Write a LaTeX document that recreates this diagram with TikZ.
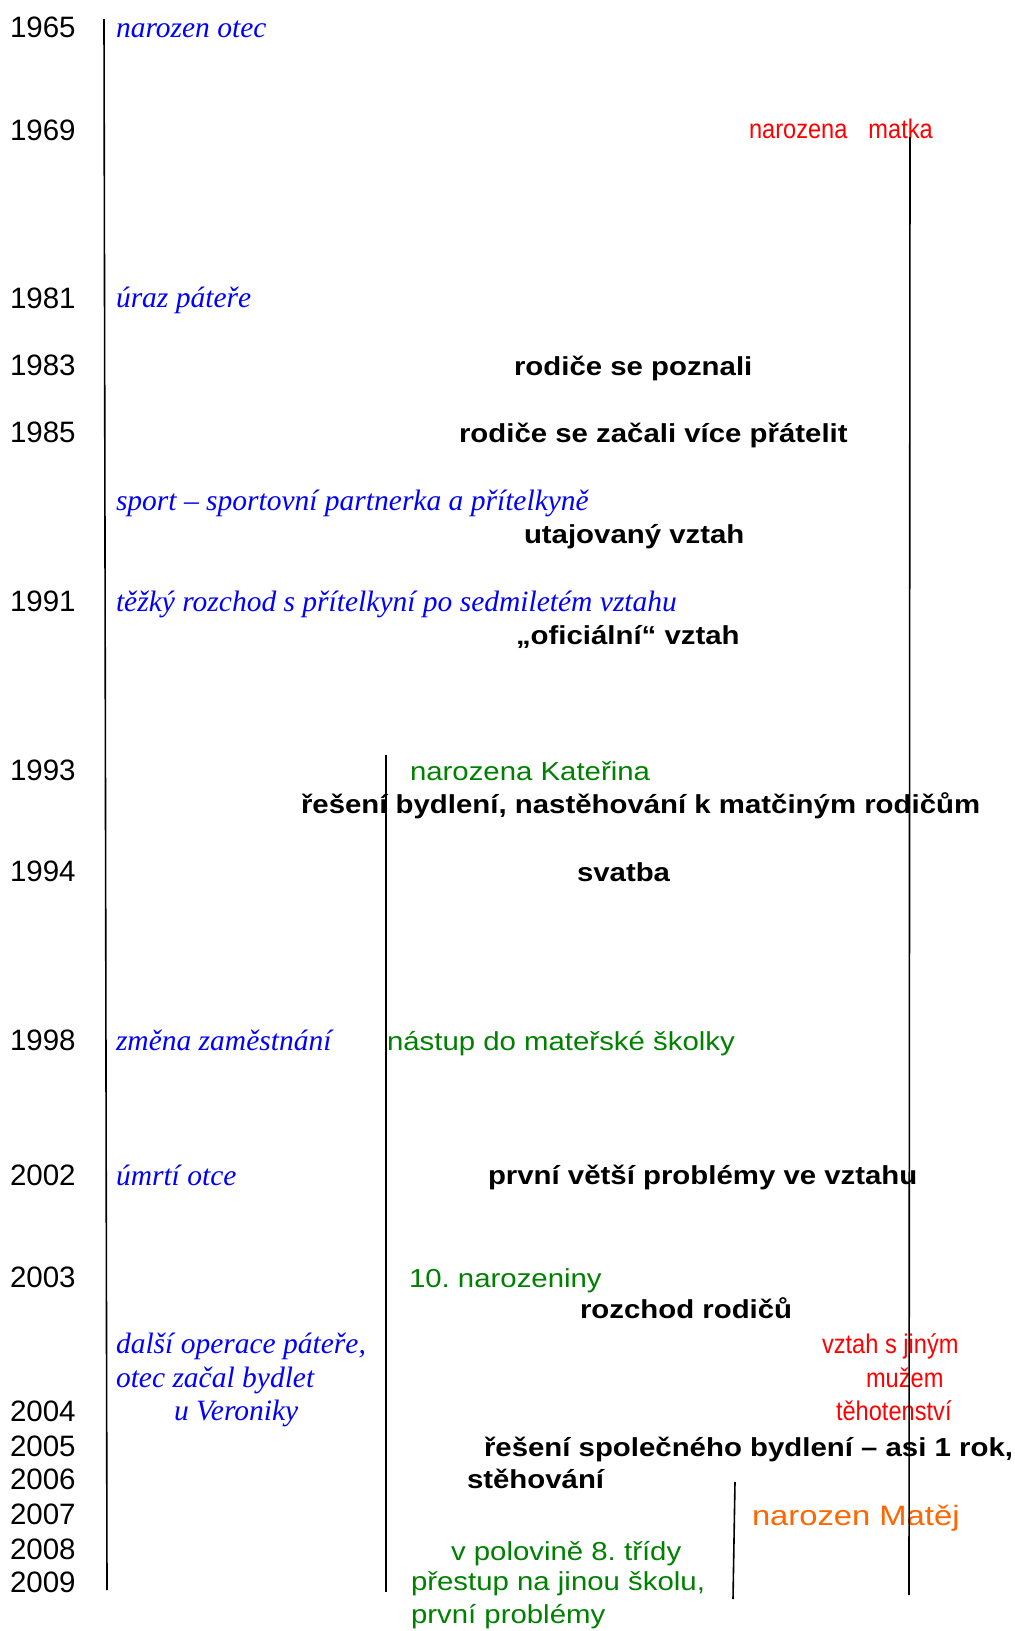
\documentclass[tikz,border=0pt]{standalone}
\usepackage{fontspec}
\newfontfamily\yrfont{Liberation Sans}
\newfontfamily\blfont{Liberation Serif}
\newfontfamily\bkfont[FakeStretch=1.13]{Liberation Sans}
\newfontfamily\grfont[FakeStretch=1.13]{Liberation Sans}
\newfontfamily\rdfont[FakeStretch=0.875]{Liberation Sans}
\newfontfamily\orfont[FakeStretch=1.17]{Liberation Sans}
\definecolor{cblue}{RGB}{0,0,255}
\definecolor{cred}{RGB}{255,0,0}
\definecolor{cgreen}{RGB}{0,128,0}
\definecolor{corange}{RGB}{255,102,0}
\frenchspacing
\begin{document}
\begin{tikzpicture}[x=1pt,y=-1pt,
  lbl/.style={anchor=base west, inner sep=0pt, outer sep=0pt},
  yearlbl/.style={lbl, font=\yrfont\fontsize{29.5}{34}\selectfont},
  father/.style={lbl, text=cblue, font=\blfont\itshape\fontsize{29.5}{34}\selectfont},
  couple/.style={lbl, font=\bkfont\bfseries\fontsize{26}{31}\selectfont},
  daughter/.style={lbl, text=cgreen, font=\grfont\fontsize{26}{31}\selectfont},
  mother/.style={lbl, text=cred, font=\rdfont\fontsize{27}{32}\selectfont},
  son/.style={lbl, text=corange, font=\orfont\fontsize{28}{33}\selectfont},
  life/.style={line width=1.6pt}]
\useasboundingbox (0,0) rectangle (1015,1631);
% years
\node[yearlbl] (y1965) at (10,37) {1965};
\node[yearlbl] (y1969) at (10,140) {1969};
\node[yearlbl] (y1981) at (10,308) {1981};
\node[yearlbl] (y1983) at (10,375) {1983};
\node[yearlbl] (y1985) at (10,442) {1985};
\node[yearlbl] (y1991) at (10,611) {1991};
\node[yearlbl] (y1993) at (10,780) {1993};
\node[yearlbl] (y1994) at (10,881) {1994};
\node[yearlbl] (y1998) at (10,1050) {1998};
\node[yearlbl] (y2002) at (10,1185) {2002};
\node[yearlbl] (y2003) at (10,1287) {2003};
\node[yearlbl] (y2004) at (10,1421) {2004};
\node[yearlbl] (y2005) at (10,1456) {2005};
\node[yearlbl] (y2006) at (10,1489) {2006};
\node[yearlbl] (y2007) at (10,1524) {2007};
\node[yearlbl] (y2008) at (10,1559) {2008};
\node[yearlbl] (y2009) at (10,1592) {2009};
% father
\node[father] (f1) at (116,37) {narozen otec};
\node[father] (f2) at (116,307) {úraz páteře};
\node[father] (f3) at (116,510) {sport – sportovní partnerka a přítelkyně};
\node[father] (f4) at (116,611) {těžký rozchod s přítelkyní po sedmiletém vztahu};
\node[father] (f5) at (116,1050) {změna zaměstnání};
\node[father] (f6) at (116,1185) {úmrtí otce};
\node[father] (f7) at (116,1353) {další operace páteře,};
\node[father] (f8) at (116,1387) {otec začal bydlet};
\node[father] (f9) at (174,1420) {u Veroniky};
% couple
\node[couple] (c1) at (514,375) {rodiče se poznali};
\node[couple] (c2) at (459,442) {rodiče se začali více přátelit};
\node[couple] (c3) at (524,543) {utajovaný vztah};
\node[couple] (c4) at (516,644) {„oficiální“ vztah};
\node[couple] (c5) at (301,813) {řešení bydlení, nastěhování k matčiným rodičům};
\node[couple] (c6) at (577,881) {svatba};
\node[couple] (c7) at (488,1184) {první větší problémy ve vztahu};
\node[couple] (c8) at (580,1318) {rozchod rodičů};
\node[couple] (c9) at (484,1456) {řešení společného bydlení – asi 1 rok,};
\node[couple] (c10) at (467,1488) {stěhování};
% daughter
\node[daughter] (d1) at (410,780) {narozena Kateřina};
\node[daughter] (d2) at (387,1050) {nástup do mateřské školky};
\node[daughter] (d3) at (409,1287) {10. narozeniny};
\node[daughter] (d4) at (451,1560) {v polovině 8. třídy};
\node[daughter] (d5) at (411,1590) {přestup na jinou školu,};
\node[daughter] (d6) at (411,1623) {první problémy};
% mother
\node[mother] (m1) at (749,138) {narozena\hspace*{21pt}matka};
\node[mother] (m2) at (822,1353) {vztah s jiným};
\node[mother] (m3) at (866,1387) {mužem};
\node[mother] (m4) at (836,1420) {těhotenství};
% son
\node[son] (s1) at (752,1525) {narozen Matěj};
% life lines
\coordinate (otecTop) at (104,19);
\coordinate (otecBot) at (107,1590);
\coordinate (katTop) at (386,755);
\coordinate (katBot) at (386,1592);
\coordinate (matTop) at (910,137);
\coordinate (matBot) at (909,1595);
\coordinate (matejTop) at (735,1482);
\coordinate (matejBot) at (733,1599);
\draw[life] (otecTop) -- (otecBot);
\draw[life] (katTop) -- (katBot);
\draw[life] (matTop) -- (matBot);
\draw[life] (matejTop) -- (matejBot);
\end{tikzpicture}
\end{document}
